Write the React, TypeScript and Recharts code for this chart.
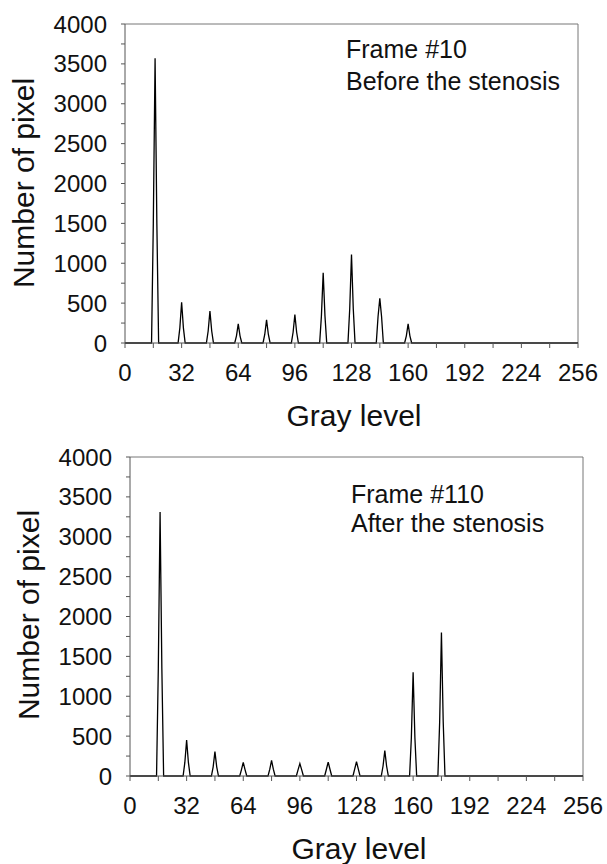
import { LineChart, Line, XAxis, YAxis, ReferenceLine } from 'recharts';

// gray level ticks (labels only on multiples of 32)
const xTicks = [0, 16, 32, 48, 64, 80, 96, 112, 128, 144, 160, 176, 192, 208, 224, 240, 256];
const yTicks = [0, 250, 500, 750, 1000, 1250, 1500, 1750, 2000, 2250, 2500, 2750, 3000, 3250, 3500, 3750, 4000];

// Frame #10, before the stenosis
const beforeLevels = [17, 32, 48, 64, 80, 96, 112, 128, 144, 160];
const beforePeaks = [3570, 510, 400, 240, 290, 355, 880, 1110, 560, 240];
const beforeShoulders = [1500, 190, 150, 90, 110, 135, 340, 430, 330, 90];

// Frame #110, after the stenosis
const afterLevels = [17, 32, 48, 64, 80, 96, 112, 128, 144, 160, 176];
const afterPeaks = [3310, 450, 305, 170, 195, 155, 175, 180, 320, 1300, 1800];
const afterShoulders = [1350, 170, 115, 80, 85, 80, 85, 90, 125, 480, 680];

const FONT = '"Liberation Sans", Arial, Helvetica, sans-serif';

type Row = { level: number; count: number };

// histogram rows: zero everywhere except the listed peaks and their neighbours
function buildRows(levels: number[], peaks: number[], shoulders: number[]): Row[] {
  const rows: Row[] = [{ level: 0, count: 0 }];
  levels.forEach((g, i) => {
    rows.push({ level: g - 2, count: 0 });
    rows.push({ level: g - 1, count: shoulders[i] });
    rows.push({ level: g, count: peaks[i] });
    rows.push({ level: g + 1, count: shoulders[i] });
    rows.push({ level: g + 2, count: 0 });
  });
  rows.push({ level: 256, count: 0 });
  return rows;
}

const beforeData = buildRows(beforeLevels, beforePeaks, beforeShoulders);
const afterData = buildRows(afterLevels, afterPeaks, afterShoulders);

type PanelProps = {
  data: Row[];
  lines: string[];
  left: number;
  top: number;
  right: number;
  textY: number[];
};

function Panel({ data, lines, left, top, right, textY }: PanelProps) {
  const width = 607;
  const height = 432;
  const plotBottom = top + 319;
  const axisColor = '#555';
  return (
    <LineChart
      width={width}
      height={height}
      data={data}
      margin={{ top, right, left: 0, bottom: 0 }}
      style={{ fontFamily: FONT }}
    >
      <XAxis
        dataKey="level"
        type="number"
        domain={[0, 256]}
        ticks={xTicks}
        interval={0}
        tickFormatter={(v: number) => (v % 32 === 0 ? String(v) : '')}
        height={height - plotBottom}
        tickSize={5}
        tickMargin={16}
        stroke={axisColor}
        tick={{ fill: '#111', fontSize: 24 }}
      />
      <YAxis
        type="number"
        domain={[0, 4000]}
        ticks={yTicks}
        interval={0}
        tickFormatter={(v: number) => (v % 500 === 0 ? String(v) : '')}
        width={left}
        tickSize={4}
        tickMargin={14}
        stroke={axisColor}
        tick={{ fill: '#111', fontSize: 24 }}
      />
      <ReferenceLine y={4000} stroke="#777" />
      <ReferenceLine x={256} stroke="#777" />
      <Line
        type="linear"
        dataKey="count"
        stroke="#000"
        strokeWidth={1.3}
        dot={false}
        isAnimationActive={false}
      />
      <text
        x={left - 102}
        y={183}
        transform={`rotate(-90 ${left - 102} 183)`}
        textAnchor="middle"
        dominantBaseline="central"
        fontSize={30}
        fill="#111"
        fontFamily={FONT}
      >
        Number of pixel
      </text>
      <text
        x={left + 229}
        y={plotBottom + 83}
        textAnchor="middle"
        fontSize={30}
        fill="#111"
        fontFamily={FONT}
      >
        Gray level
      </text>
      {lines.map((s, i) => (
        <text key={s} x={left + 221} y={textY[i]} fontSize={25} fill="#111" fontFamily={FONT}>
          {s}
        </text>
      ))}
    </LineChart>
  );
}

export default function App() {
  return (
    <div style={{ position: 'absolute', left: 0, top: 0, width: 607, height: 864, background: '#fff' }}>
      <Panel
        data={beforeData}
        lines={['Frame #10', 'Before the stenosis']}
        left={125}
        top={24}
        right={29}
        textY={[58, 90]}
      />
      <Panel
        data={afterData}
        lines={['Frame #110', 'After the stenosis']}
        left={130}
        top={25}
        right={24}
        textY={[71, 100]}
      />
    </div>
  );
}
